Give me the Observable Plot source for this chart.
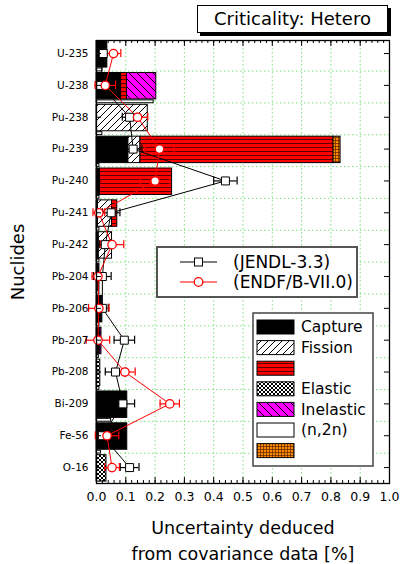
<!DOCTYPE html>
<html><head><meta charset="utf-8">
<script src="https://cdn.jsdelivr.net/npm/d3@7"></script>
<script src="https://cdn.jsdelivr.net/npm/@observablehq/plot@0.6"></script>
<style>
html,body{margin:0;padding:0;background:#fff;}
#wrap{position:relative;width:400px;height:564px;overflow:hidden;font-family:"DejaVu Sans",sans-serif;}
#title{position:absolute;left:197px;top:5px;width:189px;height:26px;border:1px solid #000;box-shadow:3px 3px 0 #000;background:#fff;font-size:18px;line-height:26px;text-align:center;color:#000;}
</style></head><body>
<div id="wrap">
<svg width="0" height="0" style="position:absolute">
<defs>
 <pattern id="pFission" width="7" height="7" patternUnits="userSpaceOnUse">
   <rect width="7" height="7" fill="#fff"/>
   <path d="M-1,1 L1,-1 M0,7 L7,0 M6,8 L8,6" stroke="#000" stroke-width="1"/>
 </pattern>
 <pattern id="pNu" width="4" height="4" patternUnits="userSpaceOnUse">
   <rect width="4" height="4" fill="#ff0000"/>
   <rect y="3" width="4" height="1" fill="#5a0000"/>
 </pattern>
 <pattern id="pElastic" width="4" height="4" patternUnits="userSpaceOnUse">
   <rect width="4" height="4" fill="#fff"/>
   <path d="M0,0 L4,4 M4,0 L0,4" stroke="#000" stroke-width="1"/>
 </pattern>
 <pattern id="pInel" width="8" height="8" patternUnits="userSpaceOnUse">
   <rect width="8" height="8" fill="#ff00ff"/>
   <path d="M0,0 L8,8 M-1,7 L1,9 M7,-1 L9,1" stroke="#000" stroke-width="1"/>
 </pattern>
 <pattern id="pChi" width="3" height="3" patternUnits="userSpaceOnUse">
   <rect width="3" height="3" fill="#ff8a00"/>
   <path d="M2.5,0 L2.5,3 M0,2.5 L3,2.5" stroke="#6a3000" stroke-width="0.8"/>
 </pattern>
</defs></svg>
<div id="chart"></div>
<div id="title">Criticality: Hetero</div>
</div>
<script>
// ---- data ----
const nuclides = ["U-235","U-238","Pu-238","Pu-239","Pu-240","Pu-241","Pu-242","Pb-204","Pb-206","Pb-207","Pb-208","Bi-209","Fe-56","O-16"];
const capture   = [0.037,0.084,0,    0.109,0.012,0.005,0.008,0.010,0.020,0.013,0,    0.105,0.105,0];
const fission   = [0,    0,    0.175,0.041,0,    0.048,0.045,0,    0,    0,    0,    0,    0,    0];
const nubar     = [0,    0.020,0,    0.659,0.246,0.018,0,    0,    0,    0,    0,    0,    0,    0];
const elastic   = [0,    0,    0,    0,    0,    0,    0,    0,    0,    0,    0.013,0,    0,    0.034];
const inelastic = [0,    0.100,0,    0,    0,    0,    0,    0,    0,    0.004,0,    0,    0,    0];
const n2n       = [0,    0,    0,    0,    0,    0,    0,    0,    0,    0,    0,    0,    0,    0];
const chi       = [0,    0,    0,    0.024,0,    0,    0,    0,    0,    0,    0,    0,    0,    0];
const strip     = [0.020,0.195,0.020,0.010,0.010,0.010,0.010,0.010,0.010,0.008,0.010,0.050,0.015,0];
const jendl     = [0.023,0.014,0.113,0.125,0.440,0.050,0.030,0.020,0.020,0.095,0.065,0.090,0.020,0.113];
const jendlErr  = [0.010,0.010,0.025,0.030,0.040,0.030,0.020,0.030,0.020,0.035,0.035,0.040,0.015,0.032];
const endf      = [0.058,0.030,0.140,0.215,0.200,0.008,0.053,0.005,0.008,0.005,0.097,0.250,0.036,0.053];
const endfErr   = [0.025,0.035,0.035,0.050,0.050,0.020,0.040,0.020,0.035,0.040,0.035,0.033,0.040,0.025];
const xTicks = [0,0.1,0.2,0.3,0.4,0.5,0.6,0.7,0.8,0.9,1.0];
const typeKeys  = ["Capture","Fission","Nu","Elastic","Inelastic","n2n","Chi"];
const typeLabels = ["Capture","Fission","","Elastic","Inelastic","(n,2n)",""];
const typeFills = ["#000","url(#pFission)","url(#pNu)","url(#pElastic)","url(#pInel)","#fff","url(#pChi)"];
const lib = [["(JENDL-3.3)"],["(ENDF/B-VII.0)"]];

// ---- build tables ----
const seriesVals = [capture,fission,nubar,elastic,inelastic,n2n,chi];
const segs = [];
nuclides.forEach((n,i)=>{
  let acc = 0;
  typeKeys.forEach((t,k)=>{
    const v = seriesVals[k][i];
    if (v > 0) segs.push({i, type:t, x1:acc, x2:acc+v});
    acc += v;
  });
});
const strips = nuclides.map((n,i)=>({i, v:strip[i]})).filter(d=>d.v>0);
const J = nuclides.map((n,i)=>({i, v:jendl[i], e:jendlErr[i]}));
const E = nuclides.map((n,i)=>({i, v:endf[i], e:endfErr[i]}));
const caps = arr => arr.flatMap(d=>[{i:d.i, x:d.v-d.e},{i:d.i, x:d.v+d.e}]);
const minor = d3.range(0,51).map(k=>k/50);
const rows = d3.range(nuclides.length);
const grid = d3.range(nuclides.length-1).map(i=>i+0.55);

const W=400,H=564,mL=96,mR=11,mT=40,mB=81;
const fw = W-mL-mR, fh = H-mT-mB;
const green = "#7fe07f";

const chart = Plot.plot({
  width: W, height: H,
  marginLeft: mL, marginRight: mR, marginTop: mT, marginBottom: mB,
  style: {fontFamily: "DejaVu Sans, sans-serif", fontSize: "12px", color:"#000", background:"#fff"},
  x: {domain:[0,1]},
  y: {domain:[-0.41,13.5], reverse:true},
  color: {type:"ordinal", domain:typeKeys, range:typeFills},
  marks: [
    Plot.ruleX(xTicks.slice(1,-1), {stroke:green, strokeDasharray:"1.5,2.5", strokeWidth:1}),
    Plot.ruleY(grid, {stroke:green, strokeDasharray:"1.5,2.5", strokeWidth:1}),
    Plot.rect(segs, {x1:"x1", x2:"x2", y1:d=>d.i-0.39, y2:d=>d.i+0.44, fill:"type", stroke:"#000", strokeWidth:1}),
    Plot.rect(strips, {x1:0, x2:"v", y1:d=>d.i+0.47, y2:d=>d.i+0.56, fill:"#fff", stroke:"#000", strokeWidth:1}),
    Plot.line(J, {x:"v", y:"i", stroke:"#000", strokeWidth:1}),
    Plot.line(E, {x:"v", y:"i", stroke:"#ff0000", strokeWidth:1}),
    Plot.ruleY(J, {y:"i", x1:d=>d.v-d.e, x2:d=>d.v+d.e, stroke:"#000", strokeWidth:1.2}),
    Plot.ruleX(caps(J), {x:"x", y1:"i", y2:"i", insetTop:-4, insetBottom:-4, stroke:"#000", strokeWidth:1.2}),
    Plot.ruleY(E, {y:"i", x1:d=>d.v-d.e, x2:d=>d.v+d.e, stroke:"#ff0000", strokeWidth:1.2}),
    Plot.ruleX(caps(E), {x:"x", y1:"i", y2:"i", insetTop:-4, insetBottom:-4, stroke:"#ff0000", strokeWidth:1.2}),
    Plot.dot(J, {x:"v", y:"i", symbol:"square", r:4.5, fill:"#fff", stroke:"#000", strokeWidth:1}),
    Plot.dot(E, {x:"v", y:"i", r:4.2, fill:"#fff", stroke:"#ff0000", strokeWidth:1.3}),
    // ticks (inward)
    Plot.ruleX(minor, {insetTop: fh-3, stroke:"#000"}),
    Plot.ruleX(xTicks, {insetTop: fh-6, stroke:"#000"}),
    Plot.ruleX(minor, {insetBottom: fh-3, stroke:"#000"}),
    Plot.ruleX(xTicks, {insetBottom: fh-6, stroke:"#000"}),
    Plot.ruleY(rows, {y:d=>d, insetLeft: fw-5, stroke:"#000"}),
    Plot.ruleY(rows, {y:d=>d, insetRight: fw-5, stroke:"#000"}),
    Plot.frame({stroke:"#000", strokeWidth:1.3}),
    Plot.axisX(xTicks, {tickSize:0, tickPadding:9, tickFormat:d3.format(".1f"), fontSize:12.5, label:null}),
    Plot.axisY(rows, {tickSize:0, tickPadding:8, tickFormat:i=>nuclides[i], fontSize:10.5, label:null}),
    Plot.text(["Uncertainty deduced\nfrom covariance data [%]"], {frameAnchor:"bottom", lineAnchor:"top", textAnchor:"middle", dy:32, fontSize:17.5, lineHeight:1.5, fill:"#000"}),
    Plot.text(["Nuclides"], {frameAnchor:"left", textAnchor:"middle", rotate:-90, dx:-78, fontSize:18, fill:"#000"})
  ]
});
document.getElementById("chart").appendChild(chart);

// ---- legends ----
const svg = d3.select(chart);
const g1 = svg.append("g").attr("text-anchor","start");
g1.append("rect").attr("x",157).attr("y",247).attr("width",200).attr("height",50)
  .attr("fill","#fff").attr("stroke","#555").attr("stroke-width",2);
lib.forEach(([label],k)=>{
  const y = 262 + k*20;
  const col = k===0 ? "#555" : "#ff5555";
  g1.append("line").attr("x1",180).attr("x2",217).attr("y1",y).attr("y2",y).attr("stroke",col).attr("stroke-width",1.3);
  if (k===0) g1.append("rect").attr("x",194.5).attr("y",y-4).attr("width",8).attr("height",8).attr("fill","#fff").attr("stroke","#000");
  else g1.append("circle").attr("cx",198.5).attr("cy",y).attr("r",4.3).attr("fill","#fff").attr("stroke","#ff0000").attr("stroke-width",1.3);
  g1.append("text").attr("x",233).attr("y",y).attr("dy","0.35em").attr("text-anchor","start").attr("font-size",17).attr("fill","#000").text(label);
});
const g2 = svg.append("g").attr("text-anchor","start");
g2.append("rect").attr("x",253).attr("y",313).attr("width",120).attr("height",153)
  .attr("fill","#fff").attr("stroke","#444").attr("stroke-width",1.5);
typeKeys.forEach((t,k)=>{
  const y = 327 + k*20.6;
  g2.append("rect").attr("x",257).attr("y",y-7).attr("width",37).attr("height",14)
    .attr("fill",typeFills[k]).attr("stroke","#000").attr("stroke-width",1);
  g2.append("text").attr("x",301).attr("y",y).attr("dy","0.35em").attr("text-anchor","start").attr("font-size",15.5).attr("fill","#000").text(typeLabels[k]);
});
</script>
</body></html>
